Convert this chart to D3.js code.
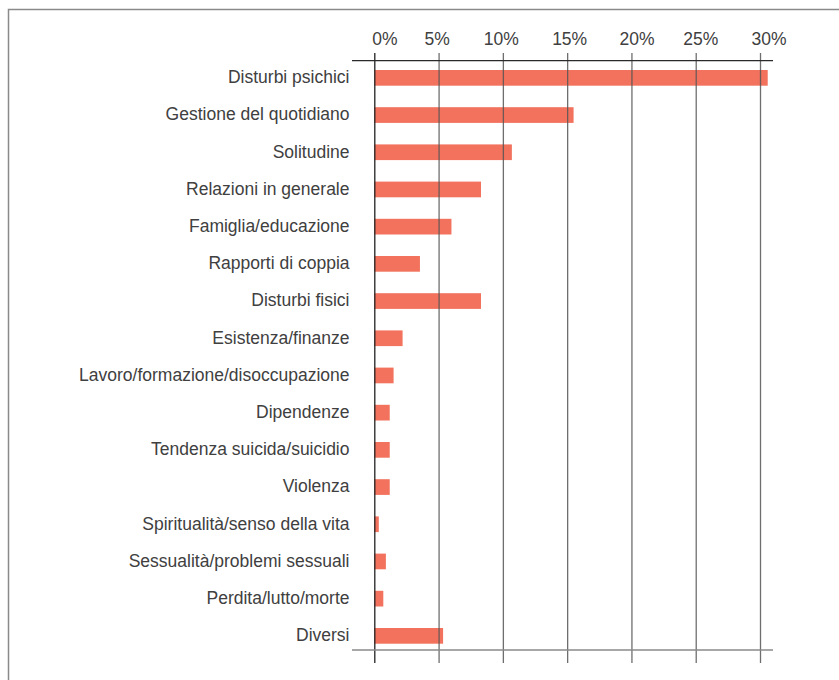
<!DOCTYPE html>
<html>
<head>
<meta charset="utf-8">
<script src="https://cdn.jsdelivr.net/npm/d3@7"></script>
<style>
  html, body { margin: 0; padding: 0; background: #fff; overflow: hidden; }
  svg { display: block; }
  text { font-family: "Liberation Sans", Arial, sans-serif; }
</style>
</head>
<body>
<svg id="chart" width="839" height="680"></svg>
<script>
const categories = [
  "Disturbi psichici",
  "Gestione del quotidiano",
  "Solitudine",
  "Relazioni in generale",
  "Famiglia/educazione",
  "Rapporti di coppia",
  "Disturbi fisici",
  "Esistenza/finanze",
  "Lavoro/formazione/disoccupazione",
  "Dipendenze",
  "Tendenza suicida/suicidio",
  "Violenza",
  "Spiritualità/senso della vita",
  "Sessualità/problemi sessuali",
  "Perdita/lutto/morte",
  "Diversi"
];
const values = [30.6, 15.5, 10.7, 8.3, 6.0, 3.55, 8.3, 2.2, 1.5, 1.2, 1.2, 1.2, 0.35, 0.9, 0.7, 5.35];
const tickValues = [0, 5, 10, 15, 20, 25, 30];
const tickLabels = ["0%", "5%", "10%", "15%", "20%", "25%", "30%"];

// style nudges for tick labels (as in the original layout)
const tickLabelNudge = [10, -2, -2, 2, 5, 4.5, 8.5];

const svg = d3.select("#chart");

// outer frame (extends past the viewport on right and bottom)
svg.append("rect")
  .attr("x", 8.5).attr("y", 9.5)
  .attr("width", 900).attr("height", 800)
  .attr("fill", "none")
  .attr("stroke", "#8a8a8a")
  .attr("stroke-width", 1.5);

const x = d3.scaleLinear().domain([0, 30]).range([374.3, 760]);
const y = d3.scaleBand()
  .domain(categories)
  .range([59.25, 654.45])
  .paddingInner(0.578)
  .paddingOuter(0.289);

const gridTop = 53, gridBottom = 663;
const axisLeft = 352, axisRight = 773;
const fontSize = 17.5;

// bars
svg.append("g").selectAll("rect")
  .data(categories)
  .join("rect")
  .attr("x", x(0))
  .attr("y", d => y(d))
  .attr("width", (d, i) => x(values[i]) - x(0))
  .attr("height", y.bandwidth())
  .attr("fill", "#f2725d");

// gridlines via axis
const grid = svg.append("g")
  .attr("transform", `translate(0,${gridBottom})`)
  .call(d3.axisTop(x).tickValues(tickValues).tickSize(gridBottom - gridTop).tickFormat(""));
grid.select(".domain").remove();
grid.selectAll(".tick line")
  .attr("stroke", (d) => d === 0 ? "#222" : "#555")
  .attr("stroke-width", 1.3)
  .attr("stroke-opacity", (d) => d === 0 ? 1 : 0.85);

// top axis line
svg.append("line")
  .attr("x1", axisLeft).attr("x2", axisRight)
  .attr("y1", 60.7).attr("y2", 60.7)
  .attr("stroke", "#2a2a2a").attr("stroke-width", 1.2);

// bottom axis line
svg.append("line")
  .attr("x1", axisLeft).attr("x2", axisRight)
  .attr("y1", 650).attr("y2", 650)
  .attr("stroke", "#8a8a8a").attr("stroke-width", 1.6);

// tick labels via axis
const tickAxis = svg.append("g")
  .attr("transform", "translate(0,44.5)")
  .call(d3.axisTop(x).tickValues(tickValues).tickSize(0).tickPadding(0)
    .tickFormat((d, i) => tickLabels[i]));
tickAxis.select(".domain").remove();
tickAxis.selectAll(".tick text")
  .attr("dy", 0)
  .attr("y", 0)
  .attr("dx", (d, i) => tickLabelNudge[i])
  .attr("font-size", fontSize)
  .attr("font-family", "'Liberation Sans', Arial, sans-serif")
  .attr("fill", "#404040");

// category labels via axis
const yAxis = svg.append("g")
  .attr("transform", "translate(349.5,0)")
  .call(d3.axisLeft(y).tickSize(0).tickPadding(0));
yAxis.select(".domain").remove();
yAxis.selectAll(".tick text")
  .attr("font-size", fontSize)
  .attr("font-family", "'Liberation Sans', Arial, sans-serif")
  .attr("fill", "#404040")
  .attr("dy", "0.3em");
</script>
</body>
</html>
